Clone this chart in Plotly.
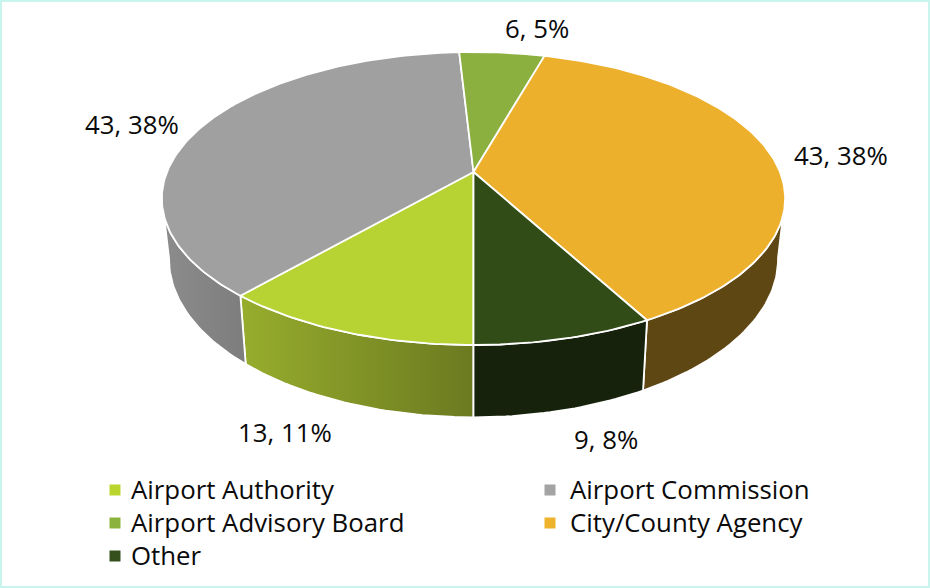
import math
import plotly.graph_objects as go

# ---- chart data ----
categories = ["Airport Authority", "Airport Commission", "Airport Advisory Board",
              "City/County Agency", "Other"]
values = [13, 43, 6, 43, 9]
percent_labels = ["11%", "38%", "5%", "38%", "8%"]

# ---- styles ----
top_colors = ["#B6D233", "#A0A0A0", "#8BB040", "#EDB02D", "#324C18"]
wall_from = ["#97AD2D", "#8C8C8C", "#6A8A30", "#5F4714", "#16220B"]
wall_to = ["#6B7A20", "#7D7D7D", "#6A8A30", "#5F4714", "#16220B"]
legend_colors = ["#BAD62E", "#A3A3A3", "#8CB23E", "#EFB22C", "#35501C"]
label_xy = [(285, 432), (132, 124), (537, 28), (841, 155), (606, 439)]
legend_marker_xy = [(115, 490), (550, 490), (115, 523), (550, 523), (115, 556)]
legend_text_x = [131, 570, 131, 570, 131]
FONT = "Open Sans"
FONT_SIZE = 25.8

# ---- projection of the tilted disc onto the page ----
CX, K = 473.5, 0.181
TOP = dict(cy=172, a=141.7, b=306.5)
BOTTOM = dict(cy=230.5, a=153, b=299.5)
START = 180
EDGE = 100  # silhouette angle


def project(deg, plane):
    t = math.radians(deg)
    x, y = math.sin(t), math.cos(t)
    w = 1 + K * y
    return CX + plane["b"] * x / w, plane["cy"] - plane["a"] * y / w


def arc(a0, a1, plane):
    n = max(2, int(abs(a1 - a0)) + 1)
    pts = [project(a0 + (a1 - a0) * i / (n - 1), plane) for i in range(n)]
    return [p[0] for p in pts], [p[1] for p in pts]


total = sum(values)
bounds = [START]
for v in values:
    bounds.append(bounds[-1] + 360 * v / total)

fig = go.Figure()

# side walls (only the part facing the viewer)
windows = [(START, 360 - EDGE), (360 + EDGE, START + 360)]
for i, name in enumerate(categories):
    for w0, w1 in windows:
        a0, a1 = max(bounds[i], w0), min(bounds[i + 1], w1)
        if a1 <= a0:
            continue
        tx, ty = arc(a0, a1, TOP)
        bx, by = arc(a1, a0, BOTTOM)
        xs, ys = tx + bx + tx[:1], ty + by + ty[:1]
        fig.add_trace(go.Scatter(
            x=xs, y=ys, mode="lines", fill="toself",
            line=dict(color="white", width=1.8),
            fillgradient=dict(type="horizontal",
                              colorscale=[[0, wall_from[i]], [1, wall_to[i]]],
                              start=min(xs), stop=max(xs)),
            hoverinfo="skip", showlegend=False))

# top faces
apex = (CX, TOP["cy"])
for i, name in enumerate(categories):
    ax, ay = arc(bounds[i], bounds[i + 1], TOP)
    fig.add_trace(go.Scatter(
        x=[apex[0]] + ax + [apex[0]], y=[apex[1]] + ay + [apex[1]],
        mode="lines", fill="toself", fillcolor=top_colors[i],
        line=dict(color="white", width=1.8),
        name=name, hoverinfo="name", showlegend=False))

# legend swatches
for i, name in enumerate(categories):
    fig.add_trace(go.Scatter(
        x=[legend_marker_xy[i][0]], y=[legend_marker_xy[i][1]], mode="markers", name=name,
        hoverinfo="name", showlegend=False,
        marker=dict(symbol="square", size=11, color=legend_colors[i], line=dict(width=0))))

# data labels
text_font = dict(family=FONT, size=FONT_SIZE, color="#0a0a0a")
annotations = [
    dict(x=label_xy[i][0], y=label_xy[i][1], xref="x", yref="y",
         text=f"{values[i]}, {percent_labels[i]}", showarrow=False,
         xanchor="center", yanchor="middle", font=text_font)
    for i in range(len(values))
]
# legend texts
annotations += [
    dict(x=legend_text_x[i], y=legend_marker_xy[i][1], xref="x", yref="y",
         text=categories[i], showarrow=False, xanchor="left", yanchor="middle",
         xshift=-2, yshift=1, font=text_font)
    for i in range(len(categories))
]

fig.update_layout(
    width=930, height=588,
    margin=dict(l=0, r=0, t=0, b=0),
    paper_bgcolor="white", plot_bgcolor="white",
    showlegend=False,
    xaxis=dict(range=[0, 930], visible=False, fixedrange=True),
    yaxis=dict(range=[588, 0], visible=False, fixedrange=True),
    annotations=annotations,
    shapes=[dict(type="rect", xref="x", yref="y", x0=1, y0=1, x1=929, y1=587,
                 line=dict(color="#C9F5EE", width=2), layer="below")],
)

fig.write_html("out.html", config=dict(displayModeBar=False),
               post_script="document.body.style.margin='0';document.body.style.overflow='hidden';")
